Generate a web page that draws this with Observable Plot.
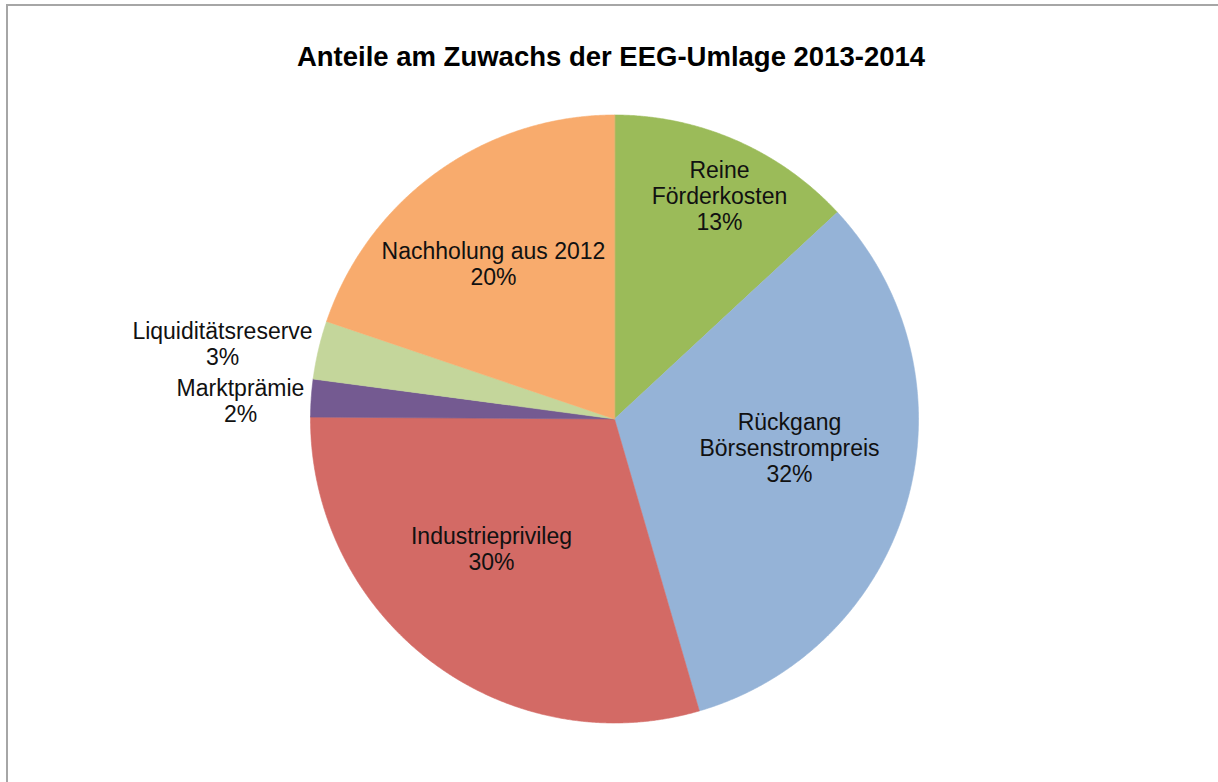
<!DOCTYPE html>
<html><head><meta charset="utf-8">
<script src="https://cdn.jsdelivr.net/npm/d3@7"></script>
<script src="https://cdn.jsdelivr.net/npm/@observablehq/plot@0.6"></script>
<style>
html,body{margin:0;padding:0;background:#fff;}
#wrap{position:relative;width:1218px;height:782px;overflow:hidden;}
#chart{position:absolute;left:0;top:0;}
#border{position:absolute;left:6px;top:4px;right:-10px;bottom:-10px;border-top:2px solid #a6a6a6;border-left:2px solid #a6a6a6;pointer-events:none;}
</style></head><body>
<div id="wrap"><div id="chart"></div><div id="border"></div></div>
<script>
// ---- data ----
const title = "Anteile am Zuwachs der EEG-Umlage 2013-2014";
const categories = ["Reine Förderkosten", "Rückgang Börsenstrompreis", "Industrieprivileg", "Marktprämie", "Liquiditätsreserve", "Nachholung aus 2012"];
const labelLines = ["Reine\nFörderkosten", "Rückgang\nBörsenstrompreis", "Industrieprivileg", "Marktprämie", "Liquiditätsreserve", "Nachholung aus 2012"];
const shares = [13.1, 32.4, 29.6, 2.0, 3.1, 19.8];
const colors = ["#9BBB59", "#95B3D7", "#D36A65", "#745A91", "#C4D69B", "#F8AB6D"];

// ---- layout ----
const W = 1218, H = 782, cx = 614, cy = 418.5, R = 304;
const labelPos = [[719, 195], [789, 447], [491, 548], [240, 400], [222, 343], [493, 263]];

const arcs = d3.pie().sort(null).value(d => d)(shares);
const slicePts = [];
arcs.forEach((a, i) => {
  const key = categories[i];
  slicePts.push({key, x: cx, y: cy});
  const n = Math.max(2, Math.ceil((a.endAngle - a.startAngle) / 0.004));
  for (let k = 0; k <= n; k++) {
    const t = a.startAngle + (a.endAngle - a.startAngle) * k / n;
    slicePts.push({key, x: cx + R * Math.sin(t), y: cy - R * Math.cos(t)});
  }
});
const labels = categories.map((c, i) => ({
  key: c,
  text: labelLines[i] + "\n" + Math.round(shares[i]) + "%",
  x: labelPos[i][0], y: labelPos[i][1]
}));

const chart = Plot.plot({
  width: W, height: H,
  margin: 0,
  x: {domain: [0, W], range: [0, W], axis: null},
  y: {domain: [0, H], range: [0, H], axis: null},
  color: {domain: categories, range: colors},
  style: {background: "transparent"},
  marks: [
    Plot.line(slicePts, {x: "x", y: "y", z: "key", fill: "key", stroke: "key", strokeWidth: 0.6, curve: "linear-closed"}),
    Plot.text(labels, {x: "x", y: "y", text: "text", fontSize: 23, lineHeight: 1.13, lineAnchor: "middle", textAnchor: "middle", fill: "#111", fontFamily: "Liberation Sans, Arial, sans-serif"}),
    Plot.text([title], {frameAnchor: "top", dx: 1.5, dy: 57, lineAnchor: "middle", text: d => d, fontSize: 27.5, fontWeight: "bold", fill: "#000", fontFamily: "Liberation Sans, Arial, sans-serif"})
  ]
});
document.getElementById("chart").appendChild(chart);
</script>
</body></html>
